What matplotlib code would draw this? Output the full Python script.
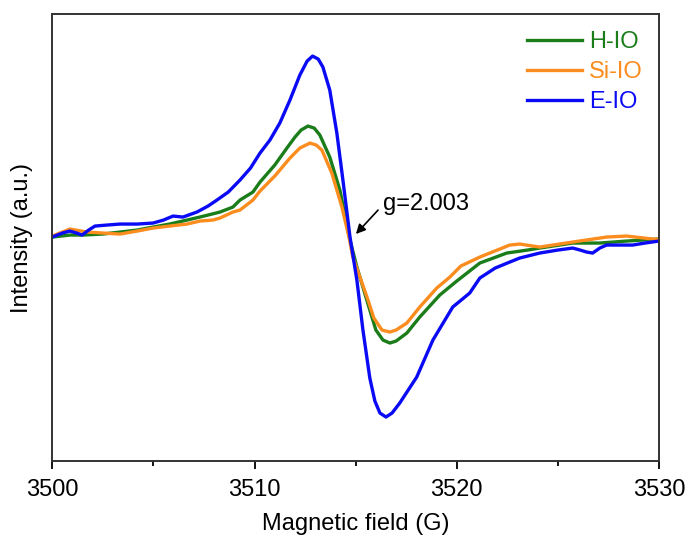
import matplotlib
matplotlib.use('Agg')
from matplotlib import pyplot as plt
from matplotlib.ticker import MultipleLocator

plt.rcParams['font.family'] = ['Liberation Sans', 'DejaVu Sans']

# E-IO (blue)
e_field = [3500.0, 3500.5, 3500.87, 3501.2, 3501.47, 3501.8, 3502.11, 3502.7, 3503.35, 3504.2,
           3504.98, 3505.5, 3505.97, 3506.46, 3507.15, 3507.7, 3508.14, 3508.7, 3509.28, 3509.8,
           3510.27, 3510.76, 3511.25, 3511.75, 3512.24, 3512.6, 3512.87, 3513.15, 3513.38, 3513.72,
           3514.07, 3514.37, 3514.72, 3515.06, 3515.36, 3515.7, 3515.95, 3516.2, 3516.5, 3516.8,
           3517.18, 3518.02, 3518.82, 3519.8, 3520.64, 3521.14, 3521.9, 3522.62, 3523.11, 3524.1,
           3525.0, 3525.73, 3526.1, 3526.42, 3526.72, 3527.07, 3527.41, 3528.0, 3528.7, 3529.3,
           3530.0]
e_int = [1, 5, 7, 5, 3, 8, 12, 13, 14, 14,
         15, 18, 22, 21, 26, 32, 38, 46, 58, 70,
         85, 98, 115, 138, 163, 177, 182, 179, 171, 148,
         105, 58, 1, -42, -92, -140, -163, -175, -179, -175,
         -165, -139, -102, -69, -55, -40, -30, -24, -20, -15,
         -12, -10, -12, -14, -15, -10, -7, -7, -7, -5,
         -3]

# H-IO (green)
h_field = [3500.0, 3500.87, 3501.5, 3502.5, 3503.35, 3504.2, 3504.98, 3505.8, 3506.66, 3507.5,
           3508.29, 3508.93, 3509.28, 3509.92, 3510.27, 3511.0, 3511.6, 3512.0, 3512.3, 3512.64,
           3512.95, 3513.23, 3513.72, 3514.22, 3514.62, 3514.72, 3515.06, 3515.7, 3516.0, 3516.35,
           3516.69, 3517.0, 3517.53, 3518.17, 3519.16, 3520.0, 3521.14, 3522.47, 3523.5, 3524.1,
           3525.73, 3527.07, 3528.4, 3530.0]
h_int = [1, 3, 3, 4, 6, 8, 11, 14, 18, 22,
         26, 31, 38, 46, 56, 73, 90, 101, 108, 112,
         110, 103, 81, 48, 8, -2, -29, -72, -92, -102,
         -105, -103, -95, -79, -57, -43, -25, -15, -12, -10,
         -5, -5, -3, -1]

# Si-IO (orange)
s_field = [3500.0, 3500.5, 3500.87, 3501.72, 3502.5, 3503.35, 3504.2, 3504.98, 3505.8, 3506.66,
           3507.3, 3507.94, 3508.29, 3508.93, 3509.28, 3509.92, 3510.27, 3511.0, 3511.75, 3512.24,
           3512.74, 3513.05, 3513.33, 3513.82, 3514.32, 3514.67, 3514.86, 3515.56, 3515.9, 3516.3,
           3516.69, 3517.0, 3517.53, 3518.17, 3519.01, 3519.66, 3520.2, 3521.14, 3522.62, 3523.11,
           3524.1, 3525.73, 3527.41, 3528.4, 3529.69, 3530.0]
s_int = [2, 6, 9, 6, 5, 4, 7, 10, 12, 14,
         17, 18, 20, 26, 28, 38, 47, 62, 80, 90,
         95, 93, 88, 65, 31, 1, -19, -59, -80, -92,
         -94, -92, -85, -69, -50, -39, -28, -19, -7, -6,
         -9, -4, 1, 2, -1, -1]

fig = plt.figure(figsize=(6.91, 5.41), dpi=100)
ax = fig.add_axes([0.0757, 0.1484, 0.878, 0.825])

ax.plot(h_field, h_int, color='#1a7d1a', lw=2.4, label='H-IO')
ax.plot(s_field, s_int, color='#fb8c1e', lw=2.4, label='Si-IO')
ax.plot(e_field, e_int, color='#0a0af5', lw=2.4, label='E-IO')

ax.set_xlim(3500, 3530)
ax.set_ylim(-222.7, 223.7)
ax.xaxis.set_major_locator(MultipleLocator(10))
ax.xaxis.set_minor_locator(MultipleLocator(5))
ax.tick_params(axis='x', which='major', direction='out', length=6, width=1.3, labelsize=17, pad=7)
ax.tick_params(axis='x', which='minor', direction='out', length=3.5, width=1.3)
ax.set_yticks([])
for s in ax.spines.values():
    s.set_linewidth(1.4)
    s.set_color('#333333')

ax.set_xlabel('Magnetic field (G)', fontsize=17, labelpad=9)
ax.set_ylabel('Intensity (a.u.)', fontsize=17, labelpad=14)

ax.annotate('', xy=(3514.92, 2), xytext=(3516.2, 30),
            arrowprops=dict(arrowstyle='-|>', color='k', lw=1.2, mutation_scale=14))
ax.text(3516.34, 28, 'g=2.003', fontsize=17, ha='left', va='baseline')

leg = ax.legend(loc='upper right', frameon=False, fontsize=17, handlelength=2.3,
                handletextpad=0.3, labelspacing=0.35, borderaxespad=0.3)
for line, text in zip(leg.get_lines(), leg.get_texts()):
    text.set_color(line.get_color())

fig.savefig('out.png', dpi=100)
